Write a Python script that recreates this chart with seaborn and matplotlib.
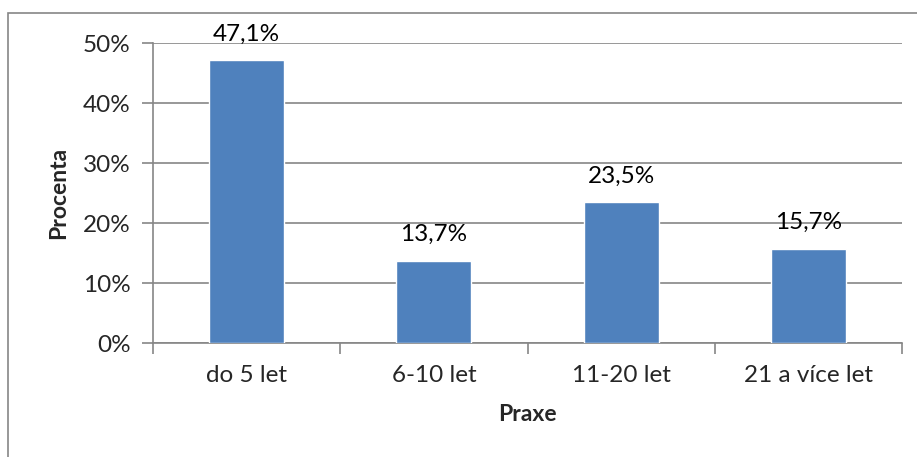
import numpy as np
import pandas as pd
import seaborn as sns
import matplotlib.pyplot as plt
from matplotlib.patches import Rectangle

# data
praxe = ["do 5 let", "6-10 let", "11-20 let", "21 a více let"]
procenta = [47.1, 13.7, 23.5, 15.7]

sns.set_style("white")
plt.rcParams['font.family'] = ['Lato', 'DejaVu Sans']

df = pd.DataFrame({"Praxe": praxe, "Procenta": procenta})

fig = plt.figure(figsize=(9.17, 4.57), dpi=100)
ax = fig.add_axes([153 / 917, 1 - 343 / 457, (902 - 153) / 917, 300 / 457])

# outer chart border (right and bottom edges fall outside the picture)
fig.patches.append(Rectangle((8 / 917, -0.05), 1.0, 1 - 13 / 457 + 0.05,
                             transform=fig.transFigure, fill=False,
                             edgecolor="#868686", linewidth=1.2, zorder=0))

sns.barplot(data=df, x="Praxe", y="Procenta", color="#4F81BD", width=0.4,
            saturation=1, ax=ax, zorder=3)

fs = 17.5
ax.set_ylim(0, 50)
ax.set_xlim(-0.5, 3.5)
ax.set_yticks(np.arange(0, 51, 10))
ax.set_yticklabels([f"{v}%" for v in range(0, 51, 10)], fontsize=fs)
ax.tick_params(axis="x", labelsize=fs, length=0, pad=16)
ax.tick_params(axis="y", length=8, color="#868686", width=1.2, left=True, pad=8)
ax.grid(axis="y", color="#868686", linewidth=1.2, zorder=0)
ax.set_axisbelow(True)

# boundary ticks between categories
ax.set_xticks(np.arange(-0.5, 4.0, 1.0), minor=True)
ax.tick_params(axis="x", which="minor", length=8, color="#868686", width=1.2, bottom=True)

for side in ["top", "right"]:
    ax.spines[side].set_visible(False)
for side in ["left", "bottom"]:
    ax.spines[side].set_color("#868686")
    ax.spines[side].set_linewidth(1.2)

for i, v in enumerate(procenta):
    ax.text(i, v + 2.6, f"{v:.1f}%".replace(".", ","), ha="center", va="bottom",
            fontsize=fs, color="black", zorder=4)

ax.set_xlabel("Praxe", fontsize=fs - 1, fontweight="bold", labelpad=13)
ax.set_ylabel("Procenta", fontsize=fs - 1, fontweight="bold", labelpad=10)

fig.savefig("out.png", dpi=100)
